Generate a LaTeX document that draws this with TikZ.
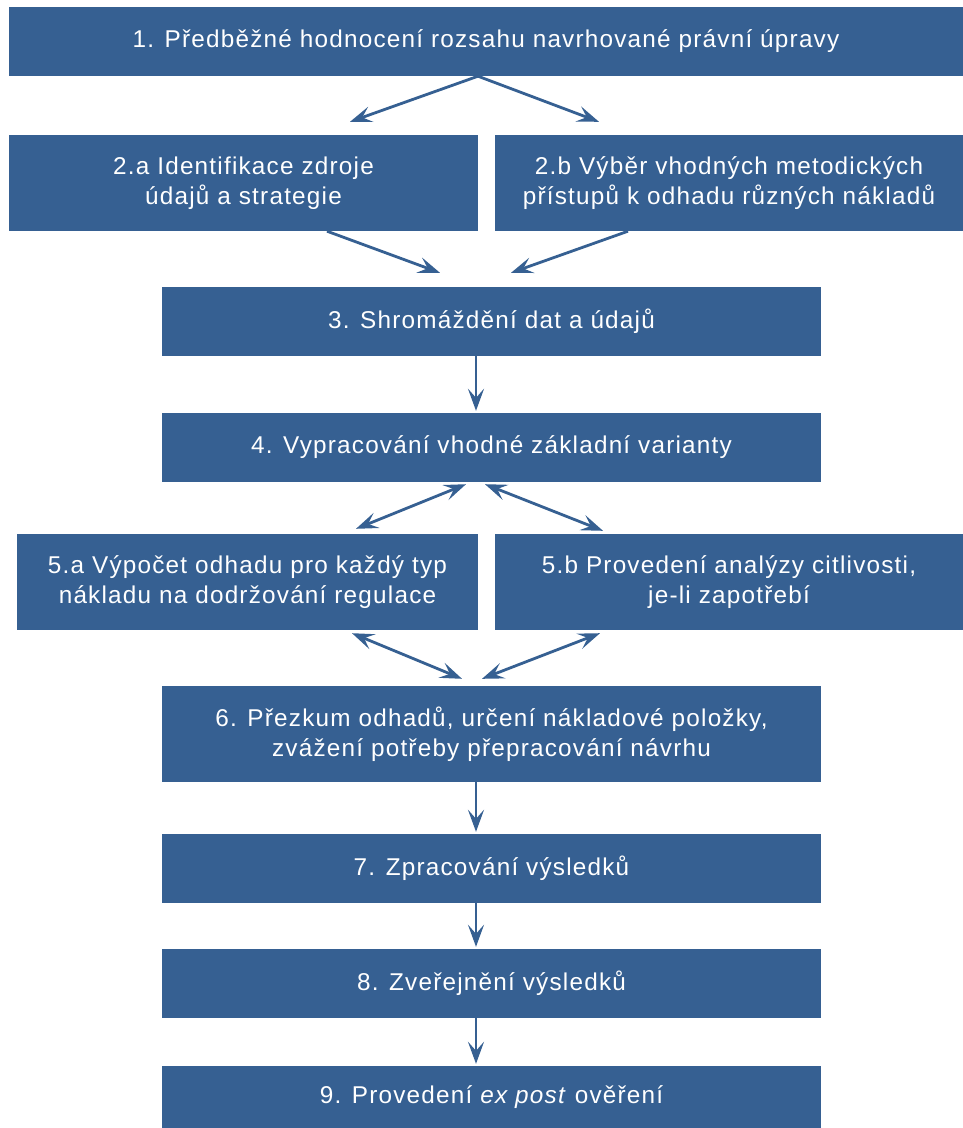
\documentclass[tikz,border=0pt]{standalone}
\usepackage{fontspec}
\setmainfont{Liberation Sans}[LetterSpace=5]
\usepackage{tikz}
\usetikzlibrary{arrows.meta,calc,positioning}
\definecolor{stepblue}{RGB}{54,96,146}

\begin{document}
\begin{tikzpicture}[x=1pt,y=-1pt,
  box/.style={fill=stepblue,text=white,inner sep=0pt,align=center,
    minimum width=#1,font=\fontsize{24.3}{30}\selectfont},
  box/.default=659pt,
  arr/.style={-{Stealth[length=22pt,width=16pt,inset=9pt]},stepblue,line width=2.8pt},
  darr/.style={{Stealth[length=22pt,width=16pt,inset=9pt]}-{Stealth[length=22pt,width=16pt,inset=9pt]},stepblue,line width=2.8pt}]
  \useasboundingbox (0,0) rectangle (963,1128);
  % steps
  \node[box=954pt,minimum height=69pt] (p1) at (486,41.5)
    {1. Předběžné hodnocení rozsahu navrhované právní úpravy};
  \node[box=469pt,minimum height=96pt] (p2a) at (243.5,183)
    {2.a Identifikace zdroje\\údajů a strategie};
  \node[box=468pt,minimum height=96pt] (p2b) at (729,183)
    {2.b Výběr vhodných metodických\\přístupů k odhadu různých nákladů};
  \node[box,minimum height=69pt] (p3) at (491.5,321.5) {3. Shromáždění dat a údajů};
  \node[box,minimum height=69pt] (p4) at (491.5,447.5) {4. Vypracování vhodné základní varianty};
  \node[box=461pt,minimum height=96pt] (p5a) at (247.5,582)
    {5.a Výpočet odhadu pro každý typ\\nákladu na dodržování regulace};
  \node[box=468pt,minimum height=96pt] (p5b) at (729,582)
    {5.b Provedení analýzy citlivosti,\\je-li zapotřebí};
  \node[box,minimum height=96pt] (p6) at (491.5,734)
    {6. Přezkum odhadů, určení nákladové položky,\\zvážení potřeby přepracování návrhu};
  \node[box,minimum height=69pt] (p7) at (491.5,868.5) {7. Zpracování výsledků};
  \node[box,minimum height=69pt] (p8) at (491.5,983.5) {8. Zveřejnění výsledků};
  \node[box,minimum height=62pt] (p9) at (491.5,1097) {9. Provedení \textit{ex post} ověření};
  % arrows
  \draw[arr] ($(p1.south)+(-8,0)$) -- ($(p2a.north)+(106.5,-13)$);
  \draw[arr] ($(p1.south)+(-8,0)$) -- ($(p2b.north)+(-130,-13)$);
  \draw[arr] ($(p2a.south)+(83.5,0)$) -- ($(p3.north)+(-51.5,-14)$);
  \draw[arr] ($(p2b.south)+(-101,0)$) -- ($(p3.north)+(19.5,-14)$);
  \draw[arr] (p3.south -| 476,0) -- ($(p4.north -| 476,0)+(0,-2)$);
  \draw[darr] ($(p4.south)+(-25.5,2)$) -- ($(p5a.north)+(108.5,-5)$);
  \draw[darr] ($(p4.south)+(-6.5,2)$) -- ($(p5b.north)+(-126,-3)$);
  \draw[darr] ($(p5a.south)+(104.5,3)$) -- ($(p6.north)+(-29.5,-7)$);
  \draw[darr] ($(p5b.south)+(-129,3)$) -- ($(p6.north)+(-9.5,-7)$);
  \draw[arr] (p6.south -| 476,0) -- ($(p7.north -| 476,0)+(0,-2)$);
  \draw[arr] (p7.south -| 476,0) -- ($(p8.north -| 476,0)+(0,-2)$);
  \draw[arr] (p8.south -| 476,0) -- ($(p9.north -| 476,0)+(0,-2)$);
\end{tikzpicture}
\end{document}
